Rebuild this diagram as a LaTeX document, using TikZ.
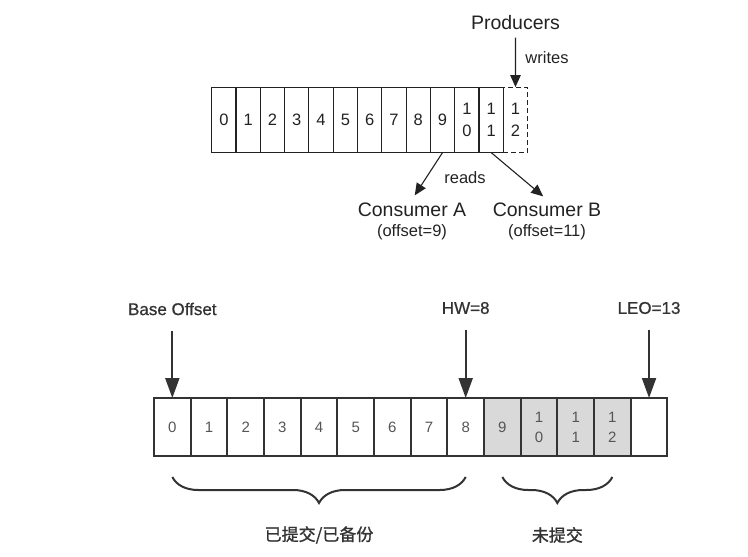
\documentclass[tikz,border=0pt]{standalone}
\usepackage{fontspec}
\setmainfont{Liberation Sans}
\newfontfamily\cjk[FakeBold=1.2]{Noto Sans CJK SC}
\newfontfamily\markfont[FakeBold=0.8]{Liberation Sans}
\usepackage{tikz}
\usetikzlibrary{arrows.meta,positioning,calc,decorations.pathreplacing}
\definecolor{inkdark}{HTML}{222222}
\definecolor{inkmid}{HTML}{333333}
\definecolor{numgray}{HTML}{555555}
\definecolor{pendgray}{HTML}{D9D9D9}
\tikzstyle{logcell}=[draw=inkdark, line width=1.1pt, minimum width=24.3pt, minimum height=65.5pt,
  inner sep=0pt, outer sep=0pt, align=center, text=inkdark, font=\fontsize{16.5}{22}\selectfont]
\tikzstyle{segcell}=[draw=inkmid, line width=1.8pt, minimum width=36.67pt, minimum height=58pt,
  inner sep=0pt, outer sep=0pt, align=center, text=numgray, font=\fontsize{15}{20}\selectfont]
\tikzstyle{pending}=[fill=pendgray]
\tikzstyle{smallhead}=[-{Triangle[length=12pt,width=10.5pt]}, line width=1.1pt, draw=inkdark]
\tikzstyle{bighead}=[-{Triangle[length=20pt,width=14pt]}, line width=2pt, draw=inkmid]
\tikzstyle{underbrace}=[decorate, decoration={brace, mirror, amplitude=26pt}, line width=2pt, draw=inkmid]
\tikzstyle{bigtext}=[text=inkdark, font=\fontsize{19.5}{22}\selectfont]
\tikzstyle{smalltext}=[text=inkdark, font=\fontsize{16.5}{20}\selectfont]
\tikzstyle{marktext}=[text=inkmid, font=\markfont\fontsize{17}{20}\selectfont]

\begin{document}
\begin{tikzpicture}[x=1pt, y=-1pt]
  \useasboundingbox (0,0) rectangle (748,557);
  % log with consumers
  \node[logcell] (t0) at (223.85,119.8) {0};
  \foreach \lab [count=\i, remember=\i as \j (initially 0)] in {1,2,3,4,5,6,7,8,9,{1\\0},{1\\1}}
    \node[logcell, right=0pt of t\j] (t\i) {\lab};
  \node[logcell, dash pattern=on 5pt off 3pt, right=0pt of t11] (t12) {1\\2};
  \node[bigtext] (producers) at (515.5,23) {Producers};
  \node[smalltext] (writes) at (547,58) {writes};
  \draw[smallhead, shorten <=4pt] (producers) -- (t12);
  \node[bigtext] (consA) at (412,210) {Consumer A};
  \node[smalltext] (consAoff) at (412,232) {(offset=9)};
  \node[bigtext] (consB) at (547,210) {Consumer B};
  \node[smalltext] (consBoff) at (547,232) {(offset=11)};
  \node[smalltext] (reads) at (465,178) {reads};
  \draw[smallhead, shorten >=5pt] (t9.south) -- (consA.north);
  \draw[smallhead, shorten >=5pt] (t11.south) -- (consB.north);
  % segment
  \node[segcell] (b0) at (172.33,427) {0};
  \foreach \lab [count=\i, remember=\i as \j (initially 0)] in {1,2,3,4,5,6,7,8}
    \node[segcell, right=0pt of b\j] (b\i) {\lab};
  \foreach \lab [count=\i from 9, remember=\i as \j (initially 8)] in {9,{1\\0},{1\\1},{1\\2}}
    \node[segcell, pending, right=0pt of b\j] (b\i) {\lab};
  \node[segcell, right=0pt of b12] (b13) {};
  % offsets
  \node[marktext] (baseoff) at (b0 |- 0,309) {Base Offset};
  \node[marktext] (hw) at (b8 |- 0,308) {HW=8};
  \node[marktext] (leo) at (b13 |- 0,308) {LEO=13};
  \draw[bighead, shorten <=12pt] (baseoff) -- (b0);
  \draw[bighead, shorten <=12pt] (hw) -- (b8);
  \draw[bighead, shorten <=12pt] (leo) -- (b13);
  % braces
  \draw[underbrace] ([yshift=-21pt]b0.south) -- ([yshift=-21pt]b8.south);
  \draw[underbrace] ([yshift=-21pt]b9.south) -- ([yshift=-21pt]b12.south);
  \node[marktext, font=\cjk\fontsize{17}{20}\selectfont] (committed)
    at ($(b0.south)!0.5!(b8.south)+(0,79)$) {已提交/已备份};
  \node[marktext, font=\cjk\fontsize{17}{20}\selectfont] (uncommitted)
    at ($(b9.south)!0.5!(b12.south)+(0,79)$) {未提交};
\end{tikzpicture}
\end{document}
